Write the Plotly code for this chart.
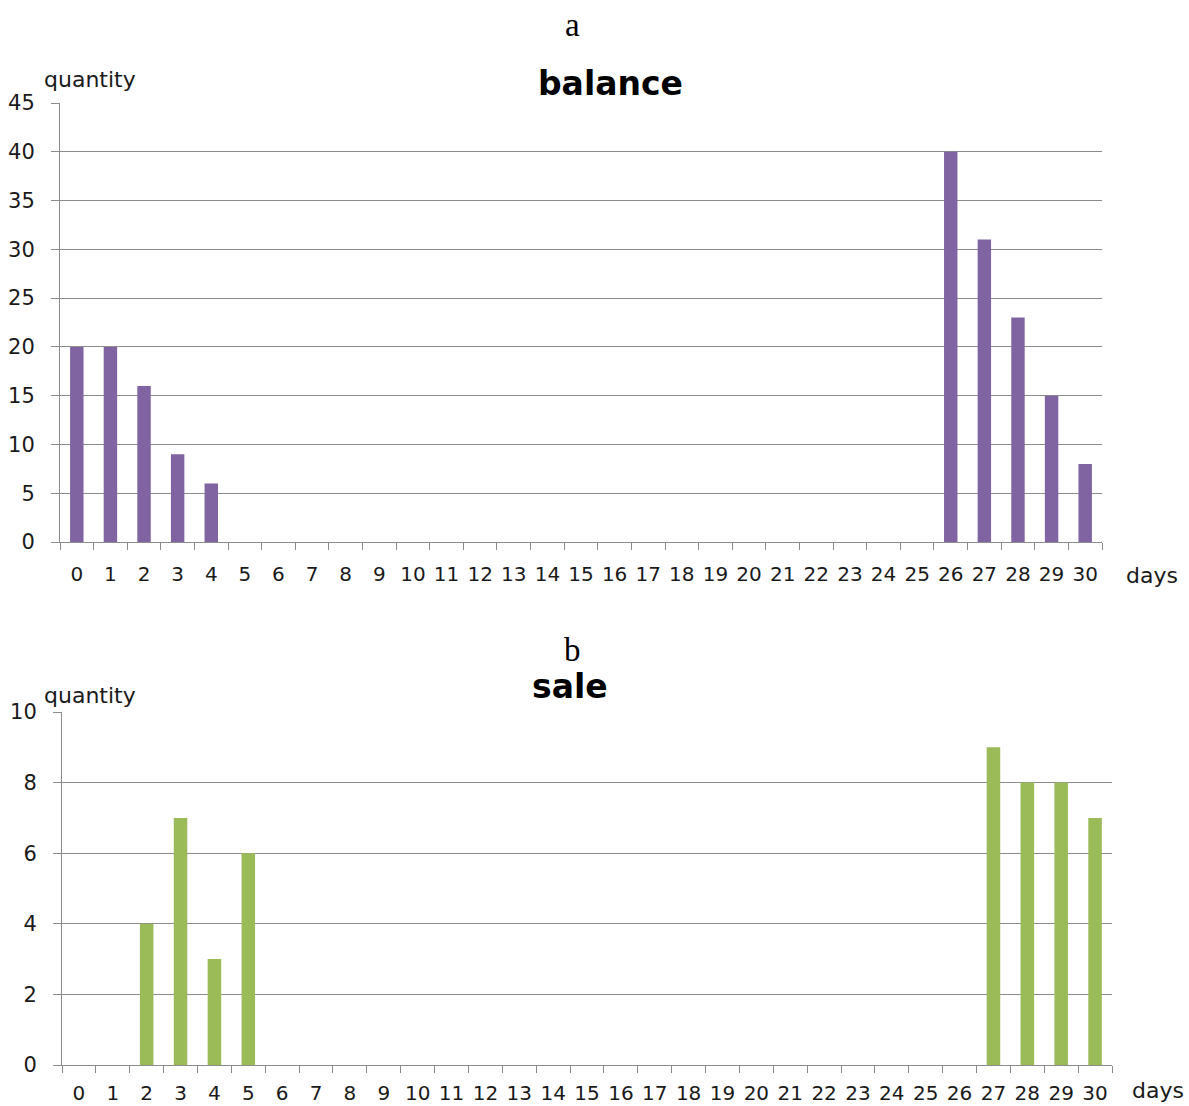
import plotly.graph_objects as go

W, H = 1189, 1106

days = [str(d) for d in range(31)]
balance = [20, 20, 16, 9, 6] + [0] * 21 + [40, 31, 23, 15, 8]
sale = [0, 0, 4, 7, 3, 6] + [0] * 21 + [9, 8, 8, 7]

balance_ticks = [0, 5, 10, 15, 20, 25, 30, 35, 40, 45]
sale_ticks = [0, 2, 4, 6, 8, 10]

PURPLE = "#8064A2"
GREEN = "#9BBB59"
GRID = "#8C8C8C"
FONT = "DejaVu Sans"
TXT = "#1a1a1a"

def px(x):
    return x / W

def py(y):
    return 1 - y / H

fig = go.Figure()
fig.add_trace(go.Bar(x=days, y=balance, marker=dict(color=PURPLE, line=dict(width=0)),
                     xaxis="x", yaxis="y", showlegend=False))
fig.add_trace(go.Bar(x=days, y=sale, marker=dict(color=GREEN, line=dict(width=0)),
                     xaxis="x2", yaxis="y2", showlegend=False))

xcommon = dict(type="category", tickson="boundaries", ticks="outside", ticklen=7,
               tickcolor=GRID, showline=True, linecolor=GRID, linewidth=1,
               showgrid=False, automargin=False, tickangle=0,
               tickfont=dict(family=FONT, size=20, color=TXT), fixedrange=True)
ycommon = dict(ticks="outside", ticklen=8, tickcolor=GRID, showline=True, linecolor=GRID,
               linewidth=1, showgrid=True, gridcolor=GRID, gridwidth=1, zeroline=False,
               automargin=False,
               tickfont=dict(family=FONT, size=21, color=TXT), ticklabelstandoff=12,
               fixedrange=True)

fig.update_layout(
    template="none",
    width=W, height=H, margin=dict(l=0, r=0, t=0, b=0, autoexpand=False),
    paper_bgcolor="white", plot_bgcolor="white", bargap=0.6, showlegend=False,
    xaxis=dict(domain=[px(60), px(1102)], anchor="y", range=[-0.5, 30.5],
               ticklabelstandoff=14, **xcommon),
    yaxis=dict(domain=[py(542), py(103)], anchor="x", range=[0, 45],
               tickvals=balance_ticks, **ycommon),
    xaxis2=dict(domain=[px(62), px(1112)], anchor="y2", range=[-0.5, 30.5],
                ticklabelstandoff=10, **xcommon),
    yaxis2=dict(domain=[py(1065), py(712)], anchor="x2", range=[0, 10],
                tickvals=sale_ticks, **ycommon),
)

def ann(text, x, y, size, family=FONT, bold=False, color=TXT):
    fig.add_annotation(text=f"<b>{text}</b>" if bold else text, x=px(x), y=py(y),
                       xref="paper", yref="paper", showarrow=False,
                       xanchor="center", yanchor="middle",
                       font=dict(family=family, size=size, color=color))

ann("a", 572, 25, 33, family="Liberation Serif", color="#000")
ann("b", 572, 650, 33, family="Liberation Serif", color="#000")
ann("balance", 610, 83, 33, bold=True, color="#000")
ann("sale", 570, 686, 33, bold=True, color="#000")
ann("quantity", 90, 80, 22)
ann("quantity", 90, 695, 22)
ann("days", 1152, 575, 22)
ann("days", 1158, 1090, 22)

fig.write_html("out.html")
